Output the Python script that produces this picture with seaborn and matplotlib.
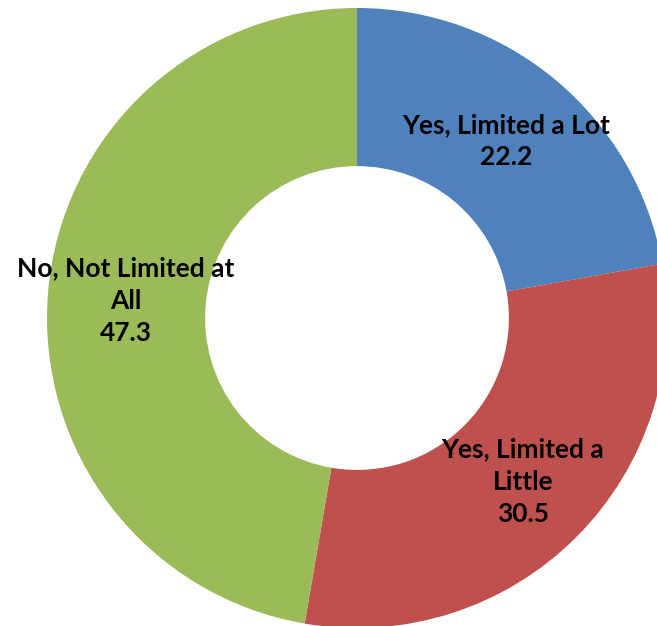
import matplotlib
matplotlib.use("Agg")
import matplotlib.pyplot as plt
import seaborn as sns

categories = ["Yes, Limited a Lot", "Yes, Limited a\nLittle", "No, Not Limited at\nAll"]
values = [22.2, 30.5, 47.3]
colors = ["#4F81BD", "#C0504D", "#9BBB59"]
# label anchor points (ring center at origin, outer radius 1)
label_pos = [(0.481, 0.571), (0.535, -0.529), (-0.745, 0.055)]

sns.set_theme(style="white")
plt.rcParams["font.family"] = ["Lato", "DejaVu Sans"]

fig = plt.figure(figsize=(6.57, 6.26), dpi=100)
ax = fig.add_axes([0, 0, 1, 1])
ax.pie(values, colors=colors, startangle=90, counterclock=False, radius=1.0,
       wedgeprops=dict(width=0.51, edgecolor="none"))
for cat, val, (x, y) in zip(categories, values, label_pos):
    ax.text(x, y, f"{cat}\n{val}", ha="center", va="center", fontsize=19,
            fontweight="bold", color="black", linespacing=1.42)

ax.set_aspect("auto")
ax.set_xlim(-1.1516, 0.9677)
ax.set_ylim(-0.9935, 1.0258)
ax.axis("off")
fig.savefig("out.png", dpi=100, facecolor="white")
